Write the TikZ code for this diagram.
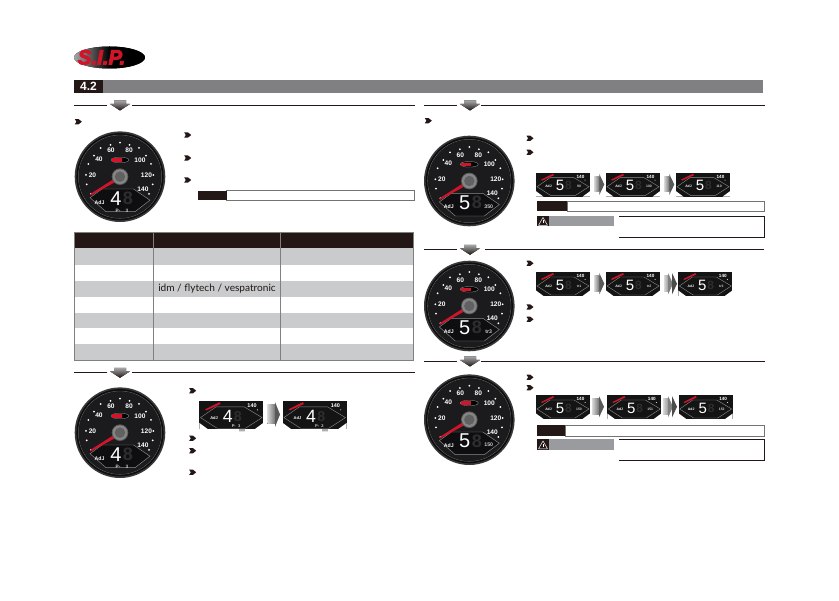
\documentclass[tikz,border=0pt]{standalone}
\usepackage{fontspec}
\setmainfont{Liberation Sans}
\newfontfamily\latofont{Lato}
\usetikzlibrary{shapes.geometric,calc}
\definecolor{ink}{HTML}{231815}
\definecolor{band}{HTML}{808083}
\definecolor{rowgray}{HTML}{C9CBCD}
\definecolor{warngray}{HTML}{9A9B9E}
\definecolor{faint}{HTML}{2E2E30}
\definecolor{needle}{HTML}{D2142A}
\definecolor{face}{HTML}{1B1B1D}
\definecolor{lcdback}{HTML}{0E0E10}
\tikzset{
  rule/.style={ink,line width=0.8pt},
  scalenum/.style={text=white,font=\bfseries\fontsize{6.6}{6.6}\selectfont,inner sep=0},
  lcd/.style={text=white,inner sep=0},
  dimlcd/.style={text=faint,inner sep=0},
  notelab/.style={fill=ink,draw=none},
  notebox/.style={draw=black!55,fill=white,line width=0.8pt},
  warnbox/.style={draw=ink,line width=0.8pt},
}
\newcommand{\bul}[2]{\fill[ink] ($(#1,#2)+(-3.5,-2.6)$) -- ++(3.8,0) -- ++(3.2,2.6) -- ++(-3.2,2.6) -- ++(-3.8,0) -- ++(1.6,-2.6) -- cycle;}
\newcommand{\secrule}[5]{%
  \draw[rule] (#2,#1) -- (#3-3,#1);
  \draw[rule] (#4,#1) -- (#5,#1);
  \fill[top color=band!70,bottom color=ink] ($(#3+4,#1-4.5)$) -- ++(12,0) -- ++(0,3.5) -- ++(4,0) -- ++(-10,6.5) -- ++(-10,-6.5) -- ++(4,0) -- cycle;}
\newcommand{\grarrow}[4]{%
  \fill[left color=white!85!black,right color=black!55] (#1,#3+3) rectangle (#2-5,#4-3);
  \fill[black!65] (#2-5,#3) -- (#2,{(#3+#4)/2}) -- (#2-5,#4) -- cycle;}
\newcommand{\grarrowd}[4]{%
  \fill[left color=white!85!black,right color=black!45] (#1,#3+3) rectangle (#2-8,#4-3);
  \fill[black!50] (#2-9,#3) -- (#2-4,{(#3+#4)/2}) -- (#2-9,#4) -- cycle;
  \fill[black!70] (#2-5,#3) -- (#2,{(#3+#4)/2}) -- (#2-5,#4) -- cycle;}
\newcommand{\gauge}[6]{%
\begin{scope}[shift={(#1,#2)}]
  \fill[black!78] (0,0) circle (45.3);
  \fill[black!95] (0,0) circle (43.6);
  \draw[black!60,line width=0.5pt] (0,0) circle (41.6);
  \fill[face] (0,0) circle (41.2);
  \foreach \dx/\dy in {0/-34,-9.5/-31.7,9.5/-31.7,-19.3/-28.7,19/-28.7,-26/-21,26/-21,-31.7/-12.7,31/-12.7,-34/-1.7,33.3/-1.7,-33.3/7.7,32.7/7.7,-29/17.3,29/17.3}{\fill[white] (\dx,\dy) circle (1);}
  \node[scalenum] at (-9,-26) {60};
  \node[scalenum] at (9,-26) {80};
  \node[scalenum] at (-21,-17.7) {40};
  \node[scalenum] at (20,-16.7) {100};
  \node[scalenum] at (-27.5,-1.7) {20};
  \node[scalenum] at (26.5,-1.7) {120};
  \node[scalenum] at (23,12.6) {140};
  \fill[black] (0,-16.7) ellipse (9 and 2.8);
  \draw[white!70!black,line width=0.25pt] (0,-16.7) ellipse (9 and 2.8);
  \fill[needle] (-8,-18.4) rectangle (1.5,-15);
  \fill[lcdback] (-30,21) -- (-18,12.3) -- (13.5,12.3) -- (30,23.5) -- (15,35) -- (-14,35) -- cycle;
  \draw[black!45,line width=0.45pt] (-30,21) -- (-18,12.3) -- (13.5,12.3) -- (30,23.5) -- (15,35) -- (-14,35) -- cycle;
  \fill[needle] (-30,17.5) -- (-5,1.6) -- (-3.4,4.6) -- (-29,18.7) -- cycle;
  \fill[black!65] (0,0) circle (8.3);
  \fill[black!48] (0,0) circle (7.4);
  \fill[black!62] (0,0) circle (5.2);
  \node[dimlcd,font=\bfseries\fontsize{18}{18}\selectfont] at (#4+12,21.5) {8};
  \node[lcd,font=\fontsize{20}{20}\selectfont] at (#4,21.5) {#3};
  \node[lcd,font=\bfseries\fontsize{5.2}{5.2}\selectfont] at (-20.5,25.5) {AdJ};
  \node[text=white!80!black,inner sep=0,font=\bfseries\fontsize{5.2}{5.2}\selectfont] at (19.5,25.5) {#6};
  \node[text=white!80!black,inner sep=0,font=\bfseries\fontsize{4.8}{4.8}\selectfont] at (2,34.3) {#5};
\end{scope}}
\newcommand{\mini}[6]{%
\begin{scope}[shift={(#1,#2)},scale=#3,every node/.append style={transform shape}]
  \fill[black!92] (0,0) rectangle (54,24);
  \fill[white] (0,24) -- (7.5,24) -- (0,18.5) -- cycle;
  \fill[white] (54,24) -- (46.5,24) -- (54,18.5) -- cycle;
  \draw[black!45,line width=0.4pt] (1,14) -- (14,5) -- (38,5) -- (53,14) -- (39,23) -- (15,23) -- cycle;
  \fill[needle] (5,7) -- (17,1) -- (18,2.5) -- (6,8) -- cycle;
  \node[lcd,font=\bfseries\fontsize{4.6}{4.6}\selectfont] at (44.5,4) {140};
  \fill[white] (49,7.5) circle (0.5);
  \node[dimlcd,font=\bfseries\fontsize{12}{12}\selectfont] at (32.5,13) {8};
  \node[lcd,font=\fontsize{15}{15}\selectfont] at (24,13) {#4};
  \node[lcd,font=\bfseries\fontsize{3.4}{3.4}\selectfont] at (12.5,14) {AdJ};
  \node[text=white!80!black,inner sep=0,font=\bfseries\fontsize{3.4}{3.4}\selectfont] at (43,14) {#6};
  \node[text=white!80!black,inner sep=0,font=\bfseries\fontsize{3.4}{3.4}\selectfont] at (31,21) {#5};
\end{scope}}
\newcommand{\notebar}[5]{%
  \draw[notebox] (#2,#4) rectangle (#3,#5);
  \fill[notelab] (#1,#4) rectangle (#2,#5);}
\newcommand{\warnbar}[2]{%
  \fill[warngray] (537,#1) rectangle (614,#1+10.5);
  \fill[ink] (537,#1) rectangle (549,#1+10.5);
  \draw[white,line width=0.5pt,line join=round] (543,#1+1.5) -- (547.5,#1+9.3) -- (538.5,#1+9.3) -- cycle;
  \fill[white] (542.6,#1+4.5) rectangle (543.4,#1+7.2);
  \draw[warnbox] (619,#1) -- (#2,#1) -- (#2,#1+21.4) -- (619,#1+21.4);}
\begin{document}
\begin{tikzpicture}[x=1pt,y=-1pt]
\useasboundingbox (0,0) rectangle (839,601);
\fill[white] (0,0) rectangle (839,601);
% logo
\fill[left color=black!35,right color=black,middle color=black] (109.5,57.5) ellipse (35.5 and 11);
\node[text=needle,inner sep=0,font=\bfseries\itshape\fontsize{20.5}{20.5}\selectfont] (logotext) at (101.5,57.3) {\special{pdf:code q 2 Tr 0.9 w 0.82 0.08 0.16 RG}S.I.P.\special{pdf:code Q}};
% header band
\fill[band] (103,80) rectangle (763,92.7);
\fill[ink] (74,80) rectangle (103,92.7);
\node[text=white,inner sep=0,font=\bfseries\fontsize{12}{12}\selectfont] (secnum) at (88.5,86.6) {4.2};
% section rules
\secrule{105}{74}{110}{132}{415}
\secrule{372.3}{74}{110}{132}{415}
\secrule{105}{424}{460}{481}{765}
\secrule{249.3}{424}{460}{485}{764}
\secrule{361}{424}{460}{481}{765}
% bullets
\bul{78.3}{121.7}\bul{187.7}{135}\bul{187.7}{158}\bul{187.7}{180}
\bul{192.7}{390.7}\bul{192.7}{438.3}\bul{192.7}{450.7}\bul{192.7}{472.3}
\bul{428.3}{120.7}\bul{530}{138.3}\bul{530}{152.3}
\bul{530}{263.3}\bul{530}{307}\bul{530}{319.3}
\bul{530}{377.3}\bul{530}{387.7}
% gauges
\gauge{120}{176.7}{4}{-4}{P-\ \ \ \ 3}{}
\gauge{120}{432.7}{4}{-4}{P-\ \ \ \ 3}{}
\gauge{469.3}{181}{5}{-4.5}{}{350}
\gauge{469.3}{306}{5}{-4.5}{}{tr3}
\gauge{469.3}{419.7}{5}{-4.5}{}{150}
% note bars
\notebar{198}{226.7}{414.7}{190.7}{200.3}
\notebar{537}{567}{764}{201.5}{211.5}
\notebar{537}{565.3}{764.7}{425.5}{436.5}
\warnbar{216}{764.3}
\warnbar{439.5}{764.7}
% table
\foreach \ya/\yb/\c in {232.3/247.7/ink,247.7/265/rowgray,281/297/rowgray,313/327.7/rowgray,344/360/rowgray}{
  \fill[\c] (74.7,\ya) rectangle (413,\yb);}
\draw[black!50,line width=0.6pt] (74.7,232) rectangle (413,360);
\draw[black!50,line width=0.6pt] (153.3,232) -- (153.3,360);
\draw[black!50,line width=0.6pt] (280.3,232) -- (280.3,360);
\node[text=ink,inner sep=0,font=\latofont\fontsize{10.1}{10.1}\selectfont] (idm) at (217,289) {idm / flytech / vespatronic};
% mini displays, left
\mini{199.3}{401}{1.185}{4}{P-\ \ 3}{}
\fill[ink] (239.5,429) rectangle (240.3,431.5) (241.5,429) rectangle (242.3,431.5) (243.5,429) rectangle (244.3,431.5);
\grarrow{267.3}{280}{402}{427}
\mini{282.7}{401}{1.185}{4}{P-\ \ 2}{}
\fill[ink] (322.5,429) rectangle (323.3,431.5) (324.5,429) rectangle (325.3,431.5) (326.5,429) rectangle (327.3,431.5);
% right 1
\mini{536}{172.7}{1}{5}{}{90}
\grarrow{594}{604.3}{174}{195}
\mini{606}{172.7}{1}{5}{}{100}
\grarrow{664}{674.3}{174}{195}
\mini{676}{172.7}{1}{5}{}{110}
% right 2
\mini{536}{272}{1}{5}{}{tr1}
\grarrow{594}{604.3}{273}{294.5}
\mini{606}{272}{1}{5}{}{tr2}
\grarrowd{664}{677}{273}{294.5}
\mini{678.3}{272}{1}{5}{}{tr3}
% right 3
\mini{536}{395}{1}{5}{}{150}
\grarrow{592}{604}{396}{417.5}
\mini{607.3}{395}{1}{5}{}{151}
\grarrowd{663}{677}{396}{417.5}
\mini{678.7}{395}{1}{5}{}{152}
\end{tikzpicture}
\end{document}
